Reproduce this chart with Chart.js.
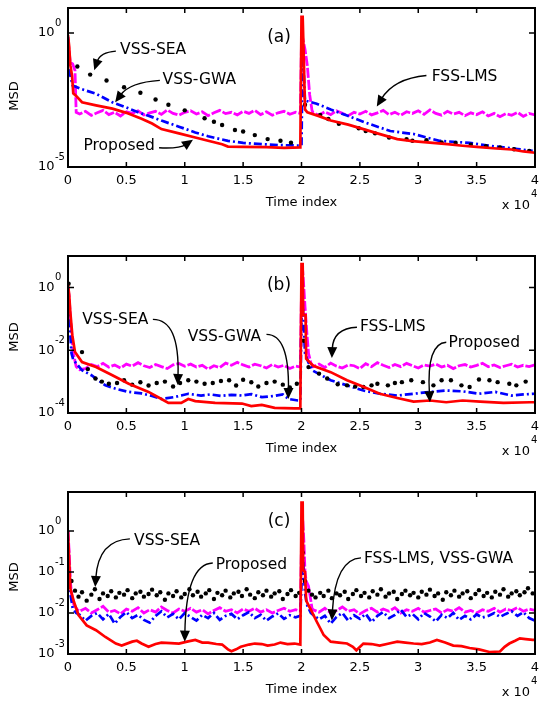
<!DOCTYPE html>
<html>
<head>
<meta charset="utf-8">
<script src="https://cdn.jsdelivr.net/npm/chart.js@4.4.1/dist/chart.umd.min.js"></script>
<style>
  body { margin: 0; background: #fff; width: 539px; height: 702px; overflow: hidden; position: relative; }
  canvas { position: absolute; left: 0; }
</style>
</head>
<body>
<canvas id="panelA" width="539" height="220" style="top:0px"></canvas>
<canvas id="panelB" width="539" height="240" style="top:220px"></canvas>
<canvas id="panelC" width="539" height="242" style="top:460px"></canvas>
<script>
// time axis is in units of 10^4 samples
const timeTicks = [0, 0.5, 1, 1.5, 2, 2.5, 3, 3.5, 4];

// ---------- panel (a) ----------
const aTicks = [1, 1e-5];
const aProposed = [[0,0.83],[0.01,0.32],[0.02,0.063],[0.035,0.025],[0.045,5.6e-3],[0.07,4.5e-3],[0.12,2.6e-3],[0.24,2e-3],[0.38,1.5e-3],[0.5,1.05e-3],[0.63,6.3e-4],[0.72,4.2e-4],[0.8,2.6e-4],[0.95,1.8e-4],[1.09,1.26e-4],[1.2,9.5e-5],[1.32,7.1e-5],[1.37,5.8e-5],[1.5,5.6e-5],[1.7,5.5e-5],[1.85,5.2e-5],[1.99,5.4e-5],
  [2,4.0],[2.01,4.0],[2.02,0.1],[2.03,1.4e-3],[2.05,1.1e-3],[2.15,7.9e-4],[2.25,5.4e-4],[2.4,3.8e-4],[2.53,2.6e-4],[2.65,1.8e-4],[2.82,1.1e-4],[2.95,9.3e-5],[3.1,8.1e-5],[3.25,7.1e-5],[3.38,6.2e-5],[3.5,5.6e-5],[3.67,4.9e-5],[3.8,4.5e-5],[3.9,3.8e-5],[4,3.4e-5]];
const aSea = [[0.08,5.6e-2],[0.19,2.8e-2],[0.33,1.7e-2],[0.48,9.5e-3],[0.62,5.9e-3],[0.75,3.3e-3],[0.86,2.1e-3],[1,1.3e-3],[1.17,6.6e-4],[1.25,4.9e-4],[1.32,3.7e-4],[1.43,2.4e-4],[1.5,2.1e-4],[1.6,1.55e-4],[1.71,1.1e-4],[1.82,9.5e-5],[1.91,8.1e-5],
  [2.03,2.1e-3],[2.16,8.7e-4],[2.23,6.2e-4],[2.32,4.1e-4],[2.49,2.8e-4],[2.55,2.2e-4],[2.63,1.8e-4],[2.75,1.26e-4],[2.9,1.1e-4],[2.95,9.5e-5],[3.07,1e-4],[3.2,8.3e-5],[3.32,7.9e-5],[3.45,6.8e-5],[3.58,6e-5],[3.7,5.4e-5],[3.82,4.6e-5],[3.95,4e-5]];
const aGwa = [[0,0.7],[0.01,0.05],[0.02,0.026],[0.04,0.011],[0.1,8.5e-3],[0.24,5.4e-3],[0.38,2.6e-3],[0.5,1.66e-3],[0.6,1.1e-3],[0.7,7.9e-4],[0.8,5.4e-4],[0.95,3.2e-4],[1.09,1.95e-4],[1.2,1.4e-4],[1.37,9.5e-5],[1.5,7.9e-5],[1.66,7.1e-5],[1.8,6.6e-5],[1.98,6.3e-5],
  [2,6.3e-5],[2.01,0.32],[2.02,0.032],[2.03,3e-3],[2.13,2.3e-3],[2.25,1.4e-3],[2.39,8.3e-4],[2.55,4.5e-4],[2.76,2.2e-4],[2.96,1.7e-4],[3.18,9.5e-5],[3.44,7.9e-5],[3.6,6.3e-5],[3.73,5.4e-5],[3.85,4.7e-5],[3.98,4e-5]];
const aFss = [[0,0.6],[0.01,0.2],[0.02,0.08],[0.04,0.07],[0.06,0.04],[0.07,1.1e-3],
  [0.1,9.5e-4],[0.15,1.2e-3],[0.2,8.5e-4],[0.25,1.05e-3],[0.3,1.3e-3],[0.35,9e-4],[0.4,1.1e-3],[0.45,8e-4],[0.5,1.15e-3],[0.55,1e-3],[0.6,1.25e-3],[0.65,8.8e-4],[0.7,1.05e-3],[0.75,1.2e-3],[0.8,9.2e-4],[0.85,1.35e-3],[0.9,1e-3],[0.95,8.6e-4],[1,1.1e-3],[1.05,1.25e-3],[1.1,9.5e-4],[1.15,1.15e-3],[1.2,8.2e-4],[1.25,1.05e-3],[1.3,1.3e-3],[1.35,9.8e-4],[1.4,1.1e-3],[1.45,8.8e-4],[1.5,1.2e-3],[1.55,1e-3],[1.6,1.3e-3],[1.65,9e-4],[1.7,1.15e-3],[1.75,8.5e-4],[1.8,1.05e-3],[1.85,1.2e-3],[1.9,9.3e-4],[1.95,1.1e-3],[1.99,1e-3],
  [2,0.5],[2.01,0.65],[2.03,0.25],[2.05,0.06],[2.07,5e-3],[2.09,1.3e-3],
  [2.1,1.05e-3],[2.15,8.5e-4],[2.2,1.15e-3],[2.25,9e-4],[2.3,1.25e-3],[2.35,1e-3],[2.4,8.2e-4],[2.45,1.1e-3],[2.5,9.5e-4],[2.55,1.2e-3],[2.6,8.8e-4],[2.65,1.05e-3],[2.7,1.3e-3],[2.75,9e-4],[2.8,1.1e-3],[2.85,8.5e-4],[2.9,1.15e-3],[2.95,1e-3],[3,1.25e-3],[3.05,9.2e-4],[3.1,1.35e-3],[3.15,1e-3],[3.2,8.6e-4],[3.25,1.2e-3],[3.3,9.5e-4],[3.35,1.1e-3],[3.4,8.2e-4],[3.45,1.05e-3],[3.5,9e-4],[3.55,1.15e-3],[3.6,8e-4],[3.65,1e-3],[3.7,7.5e-4],[3.75,9.8e-4],[3.8,8.5e-4],[3.85,1.1e-3],[3.9,7.8e-4],[3.95,1e-3],[4,8.8e-4]];

// ---------- panel (b) ----------
const bTicks = [1, 1e-2, 1e-4];
const bProposed = [[0,1.2],[0.01,0.6],[0.02,0.16],[0.037,0.03],[0.06,8.7e-3],[0.12,4.2e-3],[0.24,2.9e-3],[0.38,1.6e-3],[0.52,8.5e-4],[0.69,4.7e-4],[0.8,2.8e-4],[0.86,2.1e-4],[0.97,2.1e-4],[1.03,2.8e-4],[1.09,2.4e-4],[1.26,2.1e-4],[1.49,2e-4],[1.57,1.66e-4],[1.66,1.8e-4],[1.77,1.45e-4],[1.94,1.4e-4],[1.99,1.4e-4],
  [2,5.5],[2.01,5.5],[2.015,0.13],[2.035,0.13],[2.04,5.4e-3],[2.1,3.2e-3],[2.25,2e-3],[2.39,1.1e-3],[2.53,6.8e-4],[2.67,4.1e-4],[2.82,3e-4],[2.96,2.3e-4],[3.1,2.5e-4],[3.24,2.2e-4],[3.38,2.5e-4],[3.53,2.3e-4],[3.73,2.1e-4],[3.96,2.2e-4],[4,2.2e-4]];
const bSea = [[0.005,1.3],[0.12,8.7e-3],[0.17,2.5e-3],[0.235,1.25e-3],[0.29,1e-3],[0.35,8.5e-4],[0.42,9e-4],[0.48,1.1e-3],[0.55,8e-4],[0.62,9.5e-4],[0.69,7.5e-4],[0.76,9e-4],[0.83,1e-3],[0.9,7e-4],[0.96,9e-4],[1.03,1.1e-3],[1.1,1e-3],[1.17,8.5e-4],[1.24,9e-4],[1.31,1.05e-3],[1.38,1.1e-3],[1.44,7.5e-4],[1.5,1.15e-3],[1.57,9.5e-4],[1.63,7e-4],[1.7,9e-4],[1.77,1e-3],[1.84,8e-4],[1.9,6.5e-4],[1.96,8.5e-4],
  [2.02,0.02],[2.06,2.9e-3],[2.15,1.8e-3],[2.22,1.26e-3],[2.31,8.2e-4],[2.39,7.6e-4],[2.46,7e-4],[2.53,6.7e-4],[2.6,7.6e-4],[2.65,8.5e-4],[2.74,7.6e-4],[2.8,9e-4],[2.86,9.6e-4],[2.94,1.1e-3],[3.04,9.6e-4],[3.13,7.6e-4],[3.2,1.1e-3],[3.28,1.1e-3],[3.37,7.6e-4],[3.44,6.7e-4],[3.52,1.17e-3],[3.61,1.1e-3],[3.68,9.6e-4],[3.78,8.5e-4],[3.84,7.6e-4],[3.92,1e-3]];
const bGwa = [[0,1],[0.01,0.1],[0.02,0.03],[0.03,8e-3],[0.045,5e-3],[0.12,2.3e-3],[0.2,1.6e-3],[0.32,7.6e-4],[0.41,5.9e-4],[0.52,4.7e-4],[0.63,4.2e-4],[0.72,3.5e-4],[0.8,2.8e-4],[0.91,3.2e-4],[0.97,3.6e-4],[1.03,4.1e-4],[1.09,3.8e-4],[1.14,3.6e-4],[1.22,3.9e-4],[1.31,3.5e-4],[1.4,3.8e-4],[1.49,3.6e-4],[1.57,4e-4],[1.66,3.2e-4],[1.77,3.5e-4],[1.84,3.9e-4],[1.89,2.8e-4],[1.97,2.5e-4],[1.99,2.5e-4],
  [2,0.1],[2.01,0.3],[2.02,0.05],[2.03,8e-3],[2.06,4e-3],[2.1,2.2e-3],[2.25,1.1e-3],[2.39,7.6e-4],[2.53,5.2e-4],[2.67,4.1e-4],[2.82,3.6e-4],[2.96,4.1e-4],[3.1,4.7e-4],[3.24,5.2e-4],[3.38,4.9e-4],[3.52,4.1e-4],[3.66,4.7e-4],[3.8,3.6e-4],[3.9,3.9e-4],[4,4.1e-4]];
const bFss = [[0,1],[0.01,0.5],[0.02,0.12],[0.03,0.04],[0.045,8e-3],[0.07,3e-3],[0.1,2.4e-3],
  [0.15,2.6e-3],[0.2,3.5e-3],[0.25,3e-3],[0.3,3.8e-3],[0.35,2.9e-3],[0.4,3.4e-3],[0.45,2.7e-3],[0.5,3.6e-3],[0.55,3.1e-3],[0.6,4e-3],[0.65,3.2e-3],[0.7,2.8e-3],[0.75,3.5e-3],[0.8,3e-3],[0.85,2.6e-3],[0.9,3.4e-3],[0.95,3.8e-3],[1,3.1e-3],[1.05,3.6e-3],[1.1,2.9e-3],[1.15,3.3e-3],[1.2,2.5e-3],[1.25,3.2e-3],[1.3,2.8e-3],[1.35,3.9e-3],[1.4,3.3e-3],[1.45,4.1e-3],[1.5,3.4e-3],[1.55,2.9e-3],[1.6,3.6e-3],[1.65,3.2e-3],[1.7,2.7e-3],[1.75,3.5e-3],[1.8,2.9e-3],[1.85,3.3e-3],[1.9,2.6e-3],[1.95,3.1e-3],[1.99,2.9e-3],
  [2,0.8],[2.01,3.5],[2.02,1],[2.03,0.25],[2.045,0.04],[2.06,8e-3],[2.08,4e-3],
  [2.1,3e-3],[2.15,3.6e-3],[2.2,2.8e-3],[2.25,3.9e-3],[2.3,3.1e-3],[2.35,2.7e-3],[2.4,3.4e-3],[2.45,3.2e-3],[2.5,2.6e-3],[2.55,3.7e-3],[2.6,3e-3],[2.65,4e-3],[2.7,3.3e-3],[2.75,2.8e-3],[2.8,3.5e-3],[2.85,3e-3],[2.9,3.8e-3],[2.95,3.2e-3],[3,2.7e-3],[3.05,3.4e-3],[3.1,3.1e-3],[3.15,3.6e-3],[3.2,2.9e-3],[3.25,3.3e-3],[3.3,2.6e-3],[3.35,3.2e-3],[3.4,3.5e-3],[3.45,2.9e-3],[3.5,3.3e-3],[3.55,3.8e-3],[3.6,3e-3],[3.65,3.4e-3],[3.7,2.8e-3],[3.75,3.2e-3],[3.8,3.6e-3],[3.85,2.9e-3],[3.9,3.3e-3],[3.95,3e-3],[4,3.4e-3]];

// ---------- panel (c) ----------
const cTicks = [1, 1e-1, 1e-2, 1e-3];
const cProposed = [[0,1],[0.01,0.2],[0.02,0.04],[0.05,0.019],[0.09,8.9e-3],[0.16,5e-3],[0.24,3.8e-3],[0.32,2.6e-3],[0.41,1.8e-3],[0.46,1.6e-3],[0.55,2e-3],[0.59,2.1e-3],[0.63,1.8e-3],[0.69,1.5e-3],[0.75,1.75e-3],[0.8,1.9e-3],[0.88,1.85e-3],[0.95,1.8e-3],[1.02,2e-3],[1.09,2.2e-3],[1.15,1.9e-3],[1.2,1.9e-3],[1.27,1.75e-3],[1.32,1.7e-3],[1.37,1.3e-3],[1.4,1.17e-3],[1.44,1.3e-3],[1.48,1.5e-3],[1.55,1.7e-3],[1.6,1.8e-3],[1.66,1.75e-3],[1.71,1.6e-3],[1.77,1.7e-3],[1.82,1.9e-3],[1.88,1.75e-3],[1.94,1.8e-3],[1.99,1.7e-3],
  [2,4.9],[2.01,4.9],[2.015,0.11],[2.03,0.1],[2.04,0.02],[2.08,0.012],[2.13,6.2e-3],[2.19,2.9e-3],[2.25,2e-3],[2.32,1.9e-3],[2.39,1.8e-3],[2.44,1.5e-3],[2.47,1.23e-3],[2.53,1.8e-3],[2.6,1.75e-3],[2.67,1.6e-3],[2.75,1.8e-3],[2.82,2e-3],[2.89,1.9e-3],[2.96,1.8e-3],[3.03,1.75e-3],[3.1,1.9e-3],[3.16,2.2e-3],[3.23,1.9e-3],[3.3,1.6e-3],[3.37,1.55e-3],[3.44,1.4e-3],[3.52,1.3e-3],[3.61,1.12e-3],[3.7,1.15e-3],[3.74,1.5e-3],[3.78,1.8e-3],[3.83,2.1e-3],[3.87,2.4e-3],[3.92,2.3e-3],[3.98,2.2e-3],[4,2.2e-3]];
const cSea = [[0.03,0.06],[0.06,0.035],[0.09,0.025],[0.12,0.032],[0.16,0.02],[0.2,0.028],[0.23,0.038],[0.27,0.022],[0.3,0.03],[0.34,0.026],[0.37,0.034],[0.41,0.024],[0.44,0.031],[0.48,0.028],[0.51,0.036],[0.55,0.023],[0.58,0.03],[0.62,0.033],[0.65,0.025],[0.69,0.029],[0.72,0.037],[0.76,0.027],[0.79,0.032],[0.83,0.021],[0.86,0.03],[0.9,0.026],[0.93,0.034],[0.97,0.024],[1,0.029],[1.04,0.038],[1.07,0.027],[1.11,0.033],[1.14,0.025],[1.18,0.03],[1.21,0.036],[1.25,0.022],[1.28,0.031],[1.32,0.027],[1.35,0.035],[1.39,0.024],[1.42,0.03],[1.46,0.033],[1.49,0.026],[1.53,0.038],[1.56,0.028],[1.6,0.023],[1.63,0.032],[1.67,0.027],[1.7,0.035],[1.74,0.025],[1.77,0.03],[1.81,0.034],[1.84,0.022],[1.88,0.029],[1.91,0.036],[1.95,0.026],[1.98,0.031],
  [2.01,0.3],[2.03,0.06],[2.06,0.035],[2.09,0.028],[2.12,0.024],[2.16,0.031],[2.19,0.026],[2.23,0.035],[2.26,0.023],[2.3,0.03],[2.33,0.027],[2.37,0.033],[2.4,0.022],[2.44,0.029],[2.47,0.036],[2.51,0.026],[2.54,0.031],[2.58,0.024],[2.61,0.034],[2.65,0.028],[2.68,0.038],[2.72,0.025],[2.75,0.03],[2.79,0.033],[2.82,0.022],[2.86,0.029],[2.89,0.035],[2.93,0.027],[2.96,0.031],[3,0.024],[3.03,0.033],[3.07,0.028],[3.1,0.037],[3.14,0.026],[3.17,0.03],[3.21,0.021],[3.24,0.032],[3.28,0.027],[3.31,0.035],[3.35,0.025],[3.38,0.03],[3.42,0.034],[3.45,0.023],[3.49,0.029],[3.52,0.036],[3.56,0.026],[3.59,0.031],[3.63,0.024],[3.66,0.033],[3.7,0.028],[3.73,0.038],[3.77,0.025],[3.8,0.03],[3.84,0.034],[3.87,0.027],[3.91,0.032],[3.94,0.04],[3.98,0.03]];
const cGwa = [[0,0.4],[0.01,0.05],[0.02,0.03],[0.04,1.3e-2],[0.07,1e-2],
  [0.1,9e-3],[0.15,6.5e-3],[0.2,8.5e-3],[0.25,1e-2],[0.3,7e-3],[0.35,9.5e-3],[0.4,5.5e-3],[0.45,8e-3],[0.5,1.05e-2],[0.55,7.5e-3],[0.6,9e-3],[0.65,6.8e-3],[0.7,5.8e-3],[0.75,8.5e-3],[0.8,1.1e-2],[0.85,7.8e-3],[0.9,9.5e-3],[0.95,7e-3],[1,1e-2],[1.05,8e-3],[1.1,6.5e-3],[1.15,9e-3],[1.2,7.5e-3],[1.25,1e-2],[1.3,6.8e-3],[1.35,8.5e-3],[1.4,9.5e-3],[1.45,7e-3],[1.5,8.8e-3],[1.55,1.05e-2],[1.6,7.5e-3],[1.65,9e-3],[1.7,6.5e-3],[1.75,8.2e-3],[1.8,9.8e-3],[1.85,7.2e-3],[1.9,8.8e-3],[1.95,7.8e-3],[1.99,8.5e-3],
  [2,0.05],[2.01,0.3],[2.02,0.1],[2.03,0.03],[2.05,1.5e-2],[2.08,1e-2],
  [2.1,9e-3],[2.15,7e-3],[2.2,8.5e-3],[2.25,5.5e-3],[2.3,8e-3],[2.35,1e-2],[2.4,6.5e-3],[2.45,8.8e-3],[2.5,7.2e-3],[2.55,9.5e-3],[2.6,6e-3],[2.65,8.5e-3],[2.7,1.05e-2],[2.75,7.5e-3],[2.8,9e-3],[2.85,1.2e-2],[2.9,8e-3],[2.95,9.5e-3],[3,7e-3],[3.05,1e-2],[3.1,8.2e-3],[3.15,6.2e-3],[3.2,9e-3],[3.25,7.5e-3],[3.3,1e-2],[3.35,6.8e-3],[3.4,8.5e-3],[3.45,7e-3],[3.5,9.2e-3],[3.55,7.8e-3],[3.6,8.5e-3],[3.65,1e-2],[3.7,8e-3],[3.75,9.5e-3],[3.8,1.1e-2],[3.85,8.5e-3],[3.9,1.05e-2],[3.95,7.5e-3],[4,6.5e-3]];
const cFss = [[0,1],[0.01,0.3],[0.02,0.06],[0.03,0.03],[0.05,1.6e-2],[0.08,1.2e-2],
  [0.1,1.1e-2],[0.15,1.3e-2],[0.2,1e-2],[0.25,1.2e-2],[0.3,1.45e-2],[0.35,1.05e-2],[0.4,1.15e-2],[0.45,9.5e-3],[0.5,1.25e-2],[0.55,1.1e-2],[0.6,1.35e-2],[0.65,1e-2],[0.7,1.2e-2],[0.75,1.05e-2],[0.8,1.4e-2],[0.85,1.15e-2],[0.9,1e-2],[0.95,1.25e-2],[1,1.1e-2],[1.05,1.3e-2],[1.1,1.05e-2],[1.15,1.2e-2],[1.2,9.5e-3],[1.25,1.15e-2],[1.3,1.35e-2],[1.35,1.1e-2],[1.4,1.2e-2],[1.45,1e-2],[1.5,1.25e-2],[1.55,1.1e-2],[1.6,1.3e-2],[1.65,1.05e-2],[1.7,1.2e-2],[1.75,1e-2],[1.8,1.15e-2],[1.85,1.3e-2],[1.9,1.1e-2],[1.95,1.2e-2],[1.99,1.1e-2],
  [2,0.5],[2.01,2],[2.02,0.6],[2.03,0.1],[2.04,0.06],[2.06,0.045],[2.08,0.02],[2.09,1.3e-2],
  [2.1,1.2e-2],[2.15,1.05e-2],[2.2,1.3e-2],[2.25,1e-2],[2.3,1.15e-2],[2.35,1.4e-2],[2.4,1.1e-2],[2.45,1.2e-2],[2.5,9.5e-3],[2.55,1.15e-2],[2.6,1.3e-2],[2.65,1.05e-2],[2.7,1.25e-2],[2.75,1.1e-2],[2.8,1.35e-2],[2.85,1e-2],[2.9,1.2e-2],[2.95,1.1e-2],[3,1.3e-2],[3.05,1.05e-2],[3.1,1.15e-2],[3.15,1.25e-2],[3.2,1e-2],[3.25,1.2e-2],[3.3,1.1e-2],[3.35,1.35e-2],[3.4,1.05e-2],[3.45,1.15e-2],[3.5,1e-2],[3.55,1.2e-2],[3.6,1.1e-2],[3.65,1.3e-2],[3.7,1.05e-2],[3.75,1.25e-2],[3.8,1.15e-2],[3.85,1.35e-2],[3.9,1.1e-2],[3.95,1.25e-2],[4,1.15e-2]];

// annotation texts and arrows, placed in data coordinates [time, MSD]
const aNotes = [
  { text: 'VSS-SEA', align: 'left', at: [0.446, 0.23], from: [0.41, 0.21], ctrl: [0.276, 0.19], tip: [0.225, 0.041] },
  { text: 'VSS-GWA', align: 'left', at: [0.81, 0.017], from: [0.787, 0.017], ctrl: [0.53, 0.0144], tip: [0.404, 2.6e-3] },
  { text: 'Proposed', align: 'right', at: [0.744, 6.2e-5], from: [0.78, 5.2e-5], ctrl: [0.957, 4.8e-5], tip: [1.07, 1.05e-4] },
  { text: 'FSS-LMS', align: 'left', at: [3.115, 0.022], from: [3.07, 0.026], ctrl: [2.79, 0.02], tip: [2.645, 1.8e-3] }
];
const bNotes = [
  { text: 'VSS-SEA', align: 'left', at: [0.122, 0.089], from: [0.727, 0.096], ctrl: [0.957, 0.096], tip: [0.94, 7.8e-4] },
  { text: 'VSS-GWA', align: 'left', at: [1.025, 0.026], from: [1.7, 0.032], ctrl: [1.896, 0.032], tip: [1.887, 2.8e-4] },
  { text: 'FSS-LMS', align: 'left', at: [2.5, 0.054], from: [2.475, 0.054], ctrl: [2.27, 0.05], tip: [2.26, 5.6e-3] },
  { text: 'Proposed', align: 'left', at: [3.26, 0.0166], from: [3.24, 0.018], ctrl: [3.07, 0.0166], tip: [3.1, 2.2e-4] }
];
const cNotes = [
  { text: 'VSS-SEA', align: 'left', at: [0.566, 0.57], from: [0.53, 0.64], ctrl: [0.26, 0.6], tip: [0.233, 0.043] },
  { text: 'Proposed', align: 'left', at: [1.265, 0.147], from: [1.24, 0.166], ctrl: [1.01, 0.155], tip: [1.0, 2e-3] },
  { text: 'FSS-LMS, VSS-GWA', align: 'left', at: [2.535, 0.205], from: [2.51, 0.22], ctrl: [2.29, 0.206], tip: [2.26, 6.6e-3] }
];

const FONT = '"DejaVu Sans", Verdana, sans-serif';
const toXY = pts => pts.map(p => ({ x: p[0], y: p[1] }));

function framePlugin(cfg) {
  return {
    id: 'msdFrame',
    afterDraw(chart) {
      const { ctx, chartArea: a, scales: { x, y } } = chart;
      const pt = p => ({ x: x.getPixelForValue(p[0]), y: y.getPixelForValue(p[1]) });
      ctx.save();
      ctx.strokeStyle = '#000';
      ctx.fillStyle = '#000';

      // inward tick marks
      ctx.lineWidth = 1.5;
      ctx.beginPath();
      timeTicks.forEach(t => {
        const px = x.getPixelForValue(t);
        ctx.moveTo(px, a.bottom); ctx.lineTo(px, a.bottom - 5);
        ctx.moveTo(px, a.top); ctx.lineTo(px, a.top + 5);
      });
      cfg.ticks.forEach(v => {
        const py = y.getPixelForValue(v);
        ctx.moveTo(a.left, py); ctx.lineTo(a.left + 6, py);
        ctx.moveTo(a.right, py); ctx.lineTo(a.right - 6, py);
      });
      ctx.stroke();

      ctx.lineWidth = 2;
      ctx.strokeRect(a.left, a.top, a.right - a.left, a.bottom - a.top);

      // x tick labels and titles
      ctx.font = '13px ' + FONT;
      ctx.textAlign = 'center';
      ctx.textBaseline = 'middle';
      timeTicks.forEach(t => ctx.fillText(String(t), x.getPixelForValue(t), a.bottom + 14));
      ctx.fillText('Time index', (a.left + a.right) / 2, a.bottom + 36);
      ctx.textAlign = 'right';
      ctx.fillText('x 10', 530, a.bottom + 39);
      ctx.font = '10px ' + FONT;
      ctx.textAlign = 'left';
      ctx.fillText('4', 531, a.bottom + 27);

      // y tick labels 10^k
      cfg.ticks.forEach(v => {
        const py = y.getPixelForValue(v);
        ctx.font = '13px ' + FONT;
        ctx.fillText('10', 38, py);
        ctx.font = '10px ' + FONT;
        ctx.fillText(String(Math.round(Math.log10(v))), 55, py - 10);
      });

      ctx.save();
      ctx.font = '13px ' + FONT;
      ctx.textAlign = 'center';
      ctx.translate(15, a.top + cfg.msdOffset);
      ctx.rotate(-Math.PI / 2);
      ctx.fillText('MSD', 0, 0);
      ctx.restore();

      ctx.font = '17px ' + FONT;
      ctx.textAlign = 'center';
      ctx.fillText(cfg.label, 279, a.top + 30);

      // annotations
      ctx.font = '15.5px ' + FONT;
      ctx.lineWidth = 1.4;
      cfg.notes.forEach(n => {
        const at = pt(n.at), p0 = pt(n.from), p1 = pt(n.ctrl), p2 = pt(n.tip);
        ctx.textAlign = n.align;
        ctx.fillText(n.text, at.x, at.y);
        const ang = Math.atan2(p2.y - p1.y, p2.x - p1.x);
        const len = 11, half = 5;
        const bx = p2.x - (len - 2) * Math.cos(ang), by = p2.y - (len - 2) * Math.sin(ang);
        ctx.beginPath();
        ctx.moveTo(p0.x, p0.y);
        ctx.quadraticCurveTo(p1.x, p1.y, bx, by);
        ctx.stroke();
        ctx.beginPath();
        ctx.moveTo(p2.x, p2.y);
        ctx.lineTo(p2.x - len * Math.cos(ang) + half * Math.sin(ang), p2.y - len * Math.sin(ang) - half * Math.cos(ang));
        ctx.lineTo(p2.x - len * Math.cos(ang) - half * Math.sin(ang), p2.y - len * Math.sin(ang) + half * Math.cos(ang));
        ctx.closePath();
        ctx.fill();
      });
      ctx.restore();
    }
  };
}

function makePanel(cfg) {
  const canvas = document.getElementById(cfg.id);
  new Chart(canvas.getContext('2d'), {
    type: 'line',
    data: {
      datasets: [
        { label: 'Proposed', data: toXY(cfg.proposed), borderColor: '#ff0000', borderWidth: 2.7, pointRadius: 0, tension: 0 },
        { label: 'VSS-SEA', data: toXY(cfg.sea), showLine: false, pointRadius: 2.2, pointBackgroundColor: '#000', pointBorderColor: '#000', pointBorderWidth: 0 },
        { label: 'VSS-GWA', data: toXY(cfg.gwa), borderColor: '#0000ff', borderWidth: 2.7, borderDash: [8, 3, 2, 3], pointRadius: 0, tension: 0 },
        { label: 'FSS-LMS', data: toXY(cfg.fss), borderColor: '#ff00ff', borderWidth: 2.8, borderDash: [10, 2], pointRadius: 0, tension: 0 }
      ]
    },
    options: {
      responsive: false,
      animation: false,
      events: [],
      layout: { padding: { left: 68, right: 2, top: cfg.padTop, bottom: cfg.padBottom } },
      plugins: { legend: { display: false }, tooltip: { enabled: false } },
      scales: {
        x: { type: 'linear', min: 0, max: 4, display: false },
        y: { type: 'logarithmic', min: cfg.yMin, max: cfg.yMax, display: false }
      }
    },
    plugins: [framePlugin(cfg)]
  });
}

makePanel({ id: 'panelA', padTop: 8, padBottom: 53, yMin: 1e-5, yMax: 8.57, ticks: aTicks, label: '(a)', msdOffset: 88,
  proposed: aProposed, sea: aSea, gwa: aGwa, fss: aFss, notes: aNotes });
makePanel({ id: 'panelB', padTop: 36, padBottom: 47, yMin: 1e-4, yMax: 10, ticks: bTicks, label: '(b)', msdOffset: 81,
  proposed: bProposed, sea: bSea, gwa: bGwa, fss: bFss, notes: bNotes });
makePanel({ id: 'panelC', padTop: 32, padBottom: 48, yMin: 1e-3, yMax: 8.9, ticks: cTicks, label: '(c)', msdOffset: 85,
  proposed: cProposed, sea: cSea, gwa: cGwa, fss: cFss, notes: cNotes });
</script>
</body>
</html>
